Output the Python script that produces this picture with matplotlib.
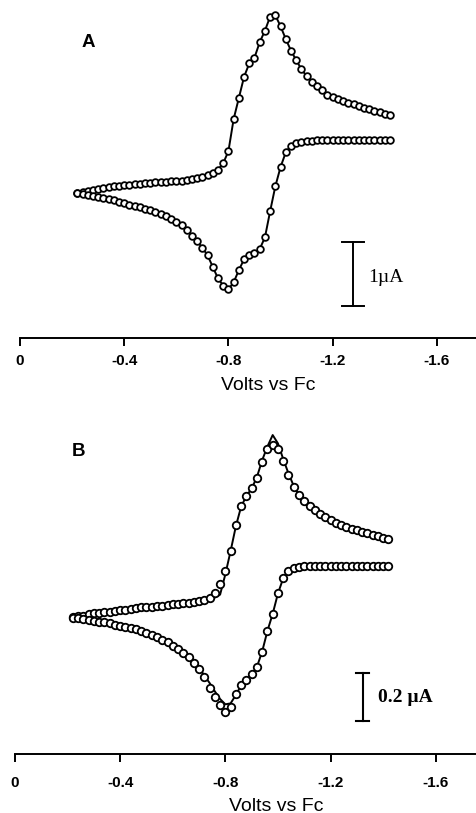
import matplotlib
matplotlib.use('Agg')
import matplotlib.pyplot as plt

# ---------------- data ----------------
potential_V = [-0.22, -0.24, -0.26, -0.28, -0.30, -0.32, -0.34, -0.36, -0.38, -0.40,
               -0.42, -0.44, -0.46, -0.48, -0.50, -0.52, -0.54, -0.56, -0.58, -0.60,
               -0.62, -0.64, -0.66, -0.68, -0.70, -0.72, -0.74, -0.76, -0.78, -0.80,
               -0.82, -0.84, -0.86, -0.88, -0.90, -0.92, -0.94, -0.96, -0.98, -1.00,
               -1.02, -1.04, -1.06, -1.08, -1.10, -1.12, -1.14, -1.16, -1.18, -1.20,
               -1.22, -1.24, -1.26, -1.28, -1.30, -1.32, -1.34, -1.36, -1.38, -1.40, -1.42]

# Panel A (current in uA, arbitrary zero)
A_forward = [0.00, 0.02, 0.03, 0.05, 0.07, 0.08, 0.10, 0.11, 0.12, 0.125,
             0.13, 0.14, 0.15, 0.16, 0.16, 0.17, 0.17, 0.18, 0.19, 0.20,
             0.20, 0.21, 0.22, 0.24, 0.25, 0.28, 0.32, 0.37, 0.47, 0.66,
             1.16, 1.49, 1.82, 2.03, 2.12, 2.36, 2.54, 2.76, 2.78, 2.61,
             2.41, 2.23, 2.08, 1.94, 1.83, 1.74, 1.67, 1.61, 1.54, 1.50,
             1.47, 1.44, 1.41, 1.39, 1.36, 1.33, 1.31, 1.29, 1.27, 1.24, 1.22]
A_reverse = [0.00, -0.01, -0.02, -0.04, -0.05, -0.07, -0.09, -0.11, -0.13, -0.15,
             -0.175, -0.20, -0.21, -0.24, -0.26, -0.29, -0.32, -0.35, -0.40, -0.45,
             -0.50, -0.57, -0.66, -0.75, -0.85, -0.97, -1.15, -1.33, -1.44, -1.50,
             -1.39, -1.20, -1.03, -0.97, -0.93, -0.87, -0.69, -0.28, 0.11, 0.41,
             0.64, 0.74, 0.78, 0.80, 0.82, 0.825, 0.83, 0.83, 0.83, 0.83,
             0.83, 0.83, 0.83, 0.83, 0.83, 0.83, 0.83, 0.83, 0.83, 0.83, 0.83]

# Panel B experimental (circles) and simulated (line)
B_forward_exp = [0.000, 0.004, 0.008, 0.013, 0.018, 0.020, 0.022, 0.024, 0.027, 0.030,
                 0.033, 0.036, 0.039, 0.042, 0.044, 0.045, 0.047, 0.049, 0.052, 0.054,
                 0.057, 0.059, 0.060, 0.063, 0.067, 0.072, 0.079, 0.102, 0.140, 0.194,
                 0.277, 0.385, 0.465, 0.508, 0.540, 0.583, 0.648, 0.700, 0.719, 0.700,
                 0.650, 0.594, 0.544, 0.510, 0.485, 0.463, 0.446, 0.430, 0.417, 0.406,
                 0.395, 0.386, 0.377, 0.370, 0.363, 0.355, 0.351, 0.345, 0.339, 0.333, 0.327]
B_forward_sim = [0.000, 0.004, 0.008, 0.013, 0.018, 0.020, 0.022, 0.024, 0.027, 0.030,
                 0.033, 0.036, 0.039, 0.042, 0.044, 0.045, 0.047, 0.049, 0.052, 0.054,
                 0.057, 0.059, 0.060, 0.063, 0.067, 0.071, 0.075, 0.083, 0.095, 0.180,
                 0.277, 0.380, 0.462, 0.506, 0.537, 0.585, 0.655, 0.712, 0.760, 0.725,
                 0.660, 0.600, 0.548, 0.510, 0.485, 0.463, 0.446, 0.430, 0.417, 0.406,
                 0.395, 0.386, 0.377, 0.370, 0.363, 0.355, 0.351, 0.345, 0.339, 0.333, 0.327]
B_reverse_exp = [-0.001, -0.004, -0.008, -0.011, -0.015, -0.018, -0.021, -0.025, -0.030, -0.035,
                 -0.040, -0.044, -0.050, -0.058, -0.065, -0.073, -0.083, -0.094, -0.104, -0.117,
                 -0.131, -0.148, -0.163, -0.188, -0.215, -0.250, -0.295, -0.333, -0.365, -0.392,
                 -0.372, -0.318, -0.283, -0.262, -0.237, -0.206, -0.142, -0.056, 0.015, 0.100,
                 0.163, 0.192, 0.204, 0.210, 0.213, 0.214, 0.215, 0.215, 0.215, 0.215,
                 0.215, 0.215, 0.215, 0.215, 0.215, 0.215, 0.215, 0.215, 0.215, 0.215, 0.215]
B_reverse_sim = [-0.001, -0.004, -0.008, -0.011, -0.015, -0.018, -0.021, -0.025, -0.030, -0.035,
                 -0.040, -0.044, -0.050, -0.058, -0.065, -0.073, -0.083, -0.094, -0.104, -0.117,
                 -0.131, -0.146, -0.163, -0.183, -0.210, -0.242, -0.273, -0.308, -0.340, -0.362,
                 -0.358, -0.323, -0.283, -0.262, -0.237, -0.206, -0.142, -0.056, 0.015, 0.100,
                 0.163, 0.192, 0.204, 0.210, 0.213, 0.214, 0.215, 0.215, 0.215, 0.215,
                 0.215, 0.215, 0.215, 0.215, 0.215, 0.215, 0.215, 0.215, 0.215, 0.215, 0.215]

tick_values = [0, -0.4, -0.8, -1.2, -1.6]
tick_labels = ['0', '-0.4', '-0.8', '-1.2', '-1.6']
xlabel_text = 'Volts vs Fc'

# ---------------- figure ----------------
W, H = 477, 813
fig = plt.figure(figsize=(W / 100, H / 100), dpi=100)

SANS = 'Liberation Sans'
SERIF = 'Liberation Serif'


def style_axis(ax, pad):
    for s in ('top', 'left', 'right'):
        ax.spines[s].set_visible(False)
    ax.spines['bottom'].set_linewidth(1.4)
    ax.set_yticks([])
    ax.set_xticks(tick_values)
    ax.set_xticklabels(tick_labels, fontfamily=SANS, fontweight='bold', fontsize=11)
    ax.tick_params(axis='x', direction='out', length=6, width=1.4, pad=pad)
    ax.patch.set_visible(False)


def draw_cv(ax, exp_branches, sim_branches, ms):
    for y in sim_branches:
        ax.plot(potential_V, y, color='black', lw=1.4, zorder=2)
    for y in exp_branches:
        ax.plot(potential_V, y, linestyle='none', marker='o', ms=ms,
                mfc='white', mec='black', mew=1.3, zorder=3)


# Panel A
axA = fig.add_axes([20 / W, 1 - 338 / H, 457 / W, 338 / H])
axA.set_xlim(0, -1.754)
axA.set_ylim(-2.26, 3.02)
style_axis(axA, pad=5.5)
draw_cv(axA, [A_forward, A_reverse], [A_forward, A_reverse], ms=4.8)
axA.text(-0.261, 2.35, 'A', fontsize=13.5, fontweight='bold', family=SANS,
         ha='center', va='center')
xa, y1, y2, cap = -1.278, -0.761, -1.761, 0.042
axA.plot([xa, xa], [y1, y2], color='black', lw=1.4)
axA.plot([xa - cap, xa + cap], [y1, y1], color='black', lw=1.4)
axA.plot([xa - cap, xa + cap], [y2, y2], color='black', lw=1.4)
axA.text(-1.335, -1.31, '1\u00b5A', fontsize=14, family=SERIF, ha='left', va='center')
fig.text(268 / W, 1 - 385 / H, xlabel_text, fontsize=14, family=SANS,
         ha='center', va='center')

# Panel B
axB = fig.add_axes([15 / W, 1 - 754 / H, 462 / W, 354 / H])
axB.set_xlim(0, -1.757)
axB.set_ylim(-0.569, 0.906)
style_axis(axB, pad=9.5)
draw_cv(axB, [B_forward_exp, B_reverse_exp], [B_forward_sim, B_reverse_sim], ms=5.4)
axB.text(-0.240, 0.690, 'B', fontsize=13.5, fontweight='bold', family=SANS,
         ha='center', va='center')
xb, y1, y2, cap = -1.323, -0.231, -0.431, 0.025
axB.plot([xb, xb], [y1, y2], color='black', lw=1.5)
axB.plot([xb - cap, xb + cap], [y1, y1], color='black', lw=1.5)
axB.plot([xb - cap, xb + cap], [y2, y2], color='black', lw=1.5)
axB.text(-1.380, -0.334, '0.2 \u00b5A', fontsize=14, family=SERIF, fontweight='bold',
         ha='left', va='center')
fig.text(276 / W, 1 - 806 / H, xlabel_text, fontsize=14, family=SANS,
         ha='center', va='center')

fig.savefig('out.png', dpi=100)
